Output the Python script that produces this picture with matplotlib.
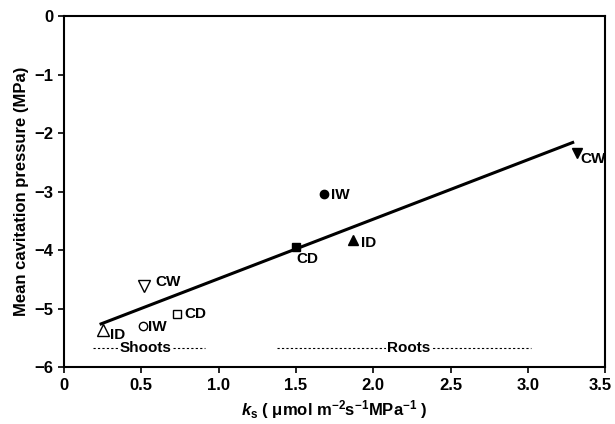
import matplotlib
matplotlib.use("Agg")
import matplotlib.pyplot as plt
from matplotlib.transforms import ScaledTranslation

plt.rcParams['font.family'] = ['Liberation Sans', 'DejaVu Sans']
plt.rcParams['font.weight'] = 'bold'
plt.rcParams['axes.labelweight'] = 'bold'
plt.rcParams['mathtext.fontset'] = 'custom'
plt.rcParams['mathtext.rm'] = 'Liberation Sans:bold'
plt.rcParams['mathtext.it'] = 'Liberation Sans:bold:italic'
plt.rcParams['mathtext.bf'] = 'Liberation Sans:bold'

# shoots (open symbols) and roots (filled symbols)
shoot_x = [0.25, 0.51, 0.73, 0.52]
shoot_y = [-5.37, -5.30, -5.09, -4.62]
shoot_lab = ["ID", "IW", "CD", "CW"]
shoot_mk = ["^", "o", "s", "v"]

root_x = [1.50, 1.68, 1.87, 3.32]
root_y = [-3.95, -3.04, -3.83, -2.34]
root_lab = ["CD", "IW", "ID", "CW"]
root_mk = ["s", "o", "^", "v"]

# regression line end points
fit_x = [0.24, 3.29]
fit_y = [-5.26, -2.16]

# group ranges shown by dashed lines
shoot_range = [0.19, 0.91]
root_range = [1.38, 3.02]
range_y = -5.67

fig = plt.figure(figsize=(6.15, 4.24), dpi=100)
ax = fig.add_axes([0.104, 0.134, 0.880, 0.828])

ax.plot(fit_x, fit_y, color="black", lw=2.2, zorder=2)

for x, y, lab, m in zip(shoot_x, shoot_y, shoot_lab, shoot_mk):
    ax.plot(x, y, marker=m, ms=9 if m in "^v" else 6, mfc="white", mec="black", mew=1, ls="none", zorder=3)
offs = {"ID": (0.05, -0.08), "IW": (0.035, -0.02), "CD": (0.05, 0.0), "CW": (0.07, 0.08)}
for x, y, lab in zip(shoot_x, shoot_y, shoot_lab):
    dx, dy = offs[lab]
    ax.text(x + dx, y + dy, lab, fontsize=11, va="center", ha="left")

for x, y, lab, m in zip(root_x, root_y, root_lab, root_mk):
    ax.plot(x, y, marker=m, ms=7 if m in "^v" else 6, color="black", ls="none", zorder=3)
roffs = {"CD": (0.0, -0.2), "IW": (0.05, -0.02), "ID": (0.05, -0.05), "CW": (0.02, -0.1)}
for x, y, lab in zip(root_x, root_y, root_lab):
    dx, dy = roffs[lab]
    ax.text(x + dx, y + dy, lab, fontsize=11, va="center", ha="left")

ax.plot(shoot_range, [range_y, range_y], color="black", ls=(0, (2, 2)), lw=0.8)
ax.plot(root_range, [range_y, range_y], color="black", ls=(0, (2, 2)), lw=0.8)
ax.text(sum(shoot_range) / 2 - 0.02, range_y, "Shoots", fontsize=11, ha="center", va="center",
        bbox=dict(fc="white", ec="none", pad=0.5))
ax.text(2.23, range_y, "Roots", fontsize=11, ha="center", va="center",
        bbox=dict(fc="white", ec="none", pad=0.5))

ax.set_xlim(0, 3.5)
ax.set_ylim(-6, 0)
ax.set_xticks([0, 0.5, 1.0, 1.5, 2.0, 2.5, 3.0, 3.5])
ax.set_xticklabels(["0", "0.5", "1.0", "1.5", "2.0", "2.5", "3.0", "3.5"], fontweight="bold")
ax.set_yticks([0, -1, -2, -3, -4, -5, -6])
ax.set_yticklabels(["0", "\u22121", "\u22122", "\u22123", "\u22124", "\u22125", "\u22126"], fontweight="bold")
ax.tick_params(direction="out", length=4, width=1.2, labelsize=12)
ax.tick_params(top=False, right=False)
for s in ax.spines.values():
    s.set_linewidth(1.5)
# keep last x label inside the figure
last = ax.get_xticklabels()[-1]
last.set_transform(last.get_transform() + ScaledTranslation(-5 / 100, 0, fig.dpi_scale_trans))

ax.set_xlabel(r"$\mathit{k}_{\mathrm{s}}$ ( " + "\u03bc" + r"mol m$^{-2}$s$^{-1}$MPa$^{-1}$ )",
              fontsize=12)
ax.set_ylabel("Mean cavitation pressure (MPa)", fontsize=12)

fig.savefig("out.png", dpi=100)
